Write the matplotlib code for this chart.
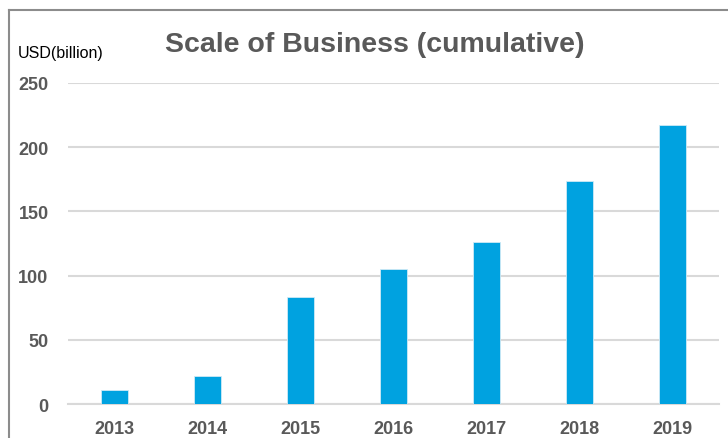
import matplotlib.pyplot as plt
from matplotlib.lines import Line2D

anos = ['2013', '2014', '2015', '2016', '2017', '2018', '2019']
valores = [11, 22, 83, 105, 126, 173.5, 217]
ticks_y = [0, 50, 100, 150, 200, 250]

cinza = '#595959'
azul = '#00A2E0'

plt.rcParams['font.family'] = ['Liberation Sans', 'DejaVu Sans']

fig = plt.figure(figsize=(7.28, 4.39), dpi=100)
ax = fig.add_axes([0.0934, 0.0774, 0.8942, 0.7313])

ax.bar(anos, valores, color=azul, width=0.3, edgecolor='#cfeaf6', linewidth=0.6, zorder=3)

ax.set_ylim(0, 250)
ax.set_xlim(-0.5, len(anos) - 0.5)
ax.set_yticks(ticks_y)
ax.grid(axis='y', color='#d9d9d9', linewidth=1.5, zorder=0)
ax.tick_params(axis='y', length=0, pad=14, labelsize=13, labelcolor=cinza)
ax.tick_params(axis='x', length=0, pad=11.5, labelsize=13, labelcolor=cinza)
for lbl in ax.get_xticklabels() + ax.get_yticklabels():
    lbl.set_fontweight('bold')
for lado in ['top', 'right', 'left']:
    ax.spines[lado].set_visible(False)
ax.spines['bottom'].set_color('#d9d9d9')
ax.spines['bottom'].set_linewidth(1.5)

fig.text(0.515, 0.897, 'Scale of Business (cumulative)', ha='center', va='center',
         fontsize=20.5, fontweight='bold', color=cinza)
fig.text(0.025, 0.877, 'USD(billion)', ha='left', va='center', fontsize=11.5, color='black')

# moldura cortada (so esquerda e topo aparecem)
fig.add_artist(Line2D([8.5 / 728, 8.5 / 728], [0, 1 - 10.5 / 439], color='#8c8c8c', linewidth=1.5))
fig.add_artist(Line2D([8.5 / 728, 1], [1 - 10.5 / 439, 1 - 10.5 / 439], color='#8c8c8c', linewidth=1.5))

plt.savefig('out.png', dpi=100)
plt.close()
